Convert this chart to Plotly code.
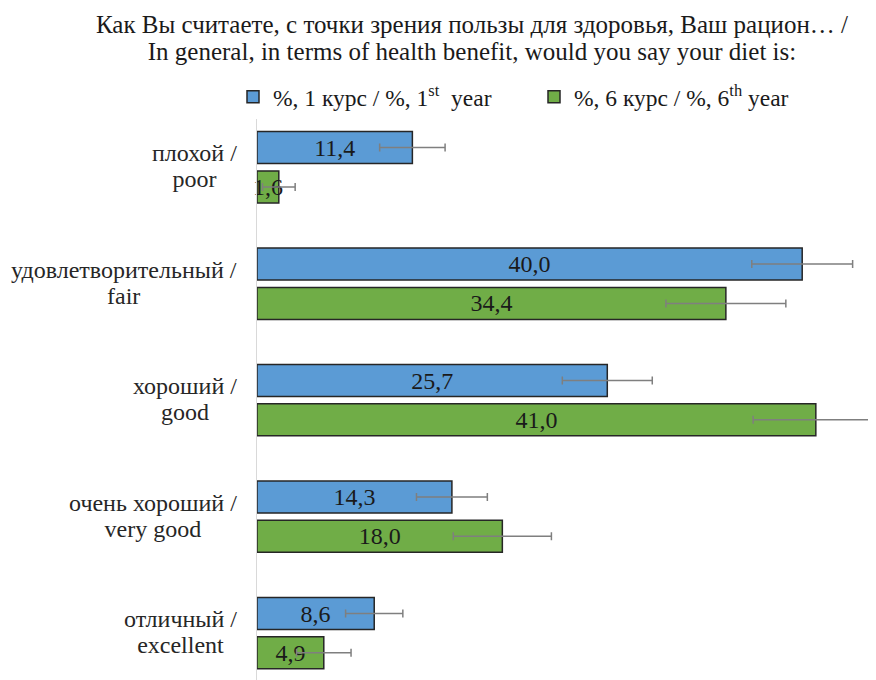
import plotly.graph_objects as go

categories = ["плохой /<br>poor", "удовлетворительный /<br>fair", "хороший /<br>good",
              "очень хороший /<br>very good", "отличный /<br>excellent"]
year1 = [11.4, 40.0, 25.7, 14.3, 8.6]
year1_err = [2.4, 3.7, 3.3, 2.6, 2.1]
year6 = [1.6, 34.4, 41.0, 18.0, 4.9]
year6_err = [1.2, 4.4, 4.6, 3.6, 2.0]
series_names = ["%, 1 курс / %, 1<sup>st</sup>\u00a0 year", "%, 6 курс / %, 6<sup>th</sup> year"]
title_lines = ["Как Вы считаете, с точки зрения пользы для здоровья, Ваш рацион… /",
               "In general, in terms of health benefit, would you say your diet is:"]

FONT = "Liberation Serif"
OFF = 8                       # page body margin
W, H = 876 - OFF, 680 - OFF
ML, MT = 257 - OFF, 101
plot_w = W - ML
plot_h = H - MT


def sized(text, px):
    """Wrap every line in a span of the given glyph size (line pitch follows the base font)."""
    return "<br>".join(f"<span style='font-size:{px}px'>{ln}</span>" for ln in text.split("<br>"))


fig = go.Figure()
for name, vals, errs, color in [(series_names[0], year1, year1_err, "#5B9BD5"),
                                (series_names[1], year6, year6_err, "#70AD47")]:
    fig.add_trace(go.Bar(
        y=categories, x=vals, name=name, orientation="h",
        marker=dict(color=color, line=dict(color="#262626", width=1.5)),
        error_x=dict(type="data", array=errs, color="#7F7F7F", thickness=1.5, width=4),
        texttemplate="%{x:.1f}", textposition="inside", insidetextanchor="middle",
        textangle=0, constraintext="none", cliponaxis=False,
        textfont=dict(family=FONT, size=24, color="#1a1a1a"),
    ))

for c in categories:
    fig.add_annotation(text=sized(c, 24), xref="paper", yref="y", x=-(ML - 231) / plot_w, y=c,
                       xanchor="right", yanchor="middle", align="center", showarrow=False,
                       yshift=1,
                       font=dict(family=FONT, size=19.8, color="#262626"))

fig.add_annotation(text=sized("<br>".join(title_lines), 25), xref="paper", yref="paper",
                   x=(464 - ML) / plot_w, y=1 + (MT - 1) / plot_h,
                   xanchor="center", yanchor="top", align="center", showarrow=False,
                   font=dict(family=FONT, size=20.8, color="#1a1a1a"))

fig.update_layout(
    width=W, height=H,
    margin=dict(l=ML, r=0, t=MT, b=0),
    paper_bgcolor="white", plot_bgcolor="white",
    separators=", ",
    barmode="group", bargap=0.325, bargroupgap=0.186,
    legend=dict(orientation="h", xref="paper", yref="paper",
                x=(225 - ML) / plot_w, xanchor="left",
                y=1 + (MT - 67) / plot_h, yanchor="top",
                font=dict(family=FONT, size=23.5, color="#1a1a1a"),
                entrywidth=256, entrywidthmode="pixels", traceorder="normal"),
    xaxis=dict(range=[0, plot_w / 13.63], showgrid=False, zeroline=False, showticklabels=False,
               showline=False, ticks=""),
    yaxis=dict(categoryorder="array", categoryarray=categories, range=[4.402, -0.5],
               showticklabels=False, showgrid=False, zeroline=False, showline=True,
               linecolor="#D9D9D9", linewidth=1, ticks=""),
    showlegend=True,
)

fig.write_html("out.html")
